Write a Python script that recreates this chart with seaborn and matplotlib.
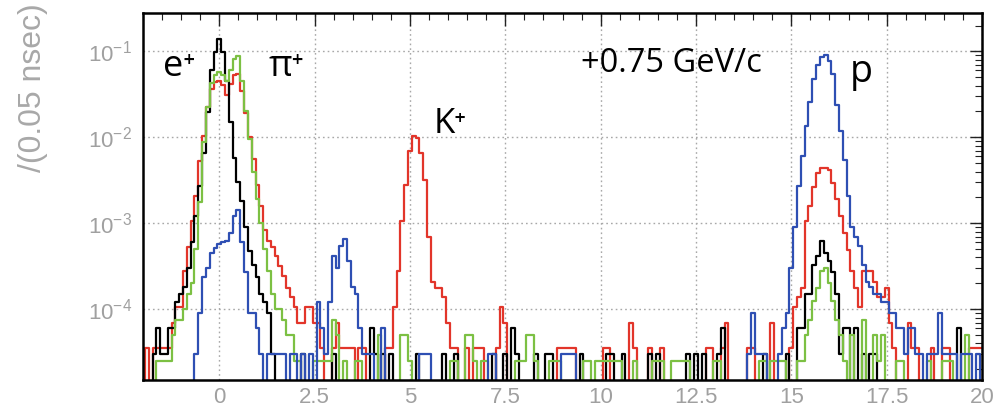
import numpy as np
import pandas as pd
import matplotlib
matplotlib.use("Agg")
import matplotlib.pyplot as plt
import seaborn as sns
from matplotlib.ticker import FixedLocator, FixedFormatter, LogLocator, MultipleLocator, NullFormatter

# ---------------- data ----------------
# time-of-flight histogram, 0.1 ns bins, first bin centred at -2.0 ns
# counts per bin, one row per ns (10 bins), final value = bin at 20.0 ns
bin_width = 0.1
first_center = -2.0

red_counts = [
    0, 1, 0, 1, 1, 1, 1, 1, 2, 3,
    3, 8, 15, 30, 60, 150, 300, 650, 1050, 1250,
    1300, 1150, 900, 1200, 1500, 1570, 1000, 550, 290, 160,
    80, 45, 24, 18, 15, 12, 9, 7, 5, 4,
    3, 2, 2, 3, 3, 2, 2, 1, 0, 0,
    1, 2, 1, 1, 1, 1, 0, 1, 1, 0,
    0, 0, 0, 0, 1, 1, 3, 8, 30, 80,
    200, 300, 280, 190, 90, 20, 6, 5, 5, 4,
    2, 1, 1, 0, 0, 1, 0, 1, 1, 1,
    0, 0, 0, 1, 3, 2, 0, 0, 0, 0,
    0, 0, 0, 0, 0, 0, 0, 0, 0, 1,
    1, 1, 1, 1, 0, 0, 0, 0, 0, 0,
    0, 1, 1, 0, 0, 0, 0, 0, 2, 1,
    0, 0, 0, 1, 0, 0, 1, 0, 0, 0,
    0, 0, 0, 0, 0, 0, 0, 0, 1, 1,
    0, 0, 1, 2, 0, 0, 0, 0, 0, 1,
    1, 0, 0, 0, 0, 2, 0, 0, 0, 0,
    1, 3, 4, 5, 30, 45, 75, 110, 125, 125,
    120, 85, 55, 35, 22, 14, 8, 5, 3, 8,
    8, 8, 6, 4, 4, 5, 2, 1, 0, 0,
    0, 2, 1, 1, 0, 0, 0, 1, 0, 0,
    1, 1, 0, 0, 0, 0, 0, 1, 1, 1,
    1,
]

black_counts = [
    0, 0, 0, 1, 2, 1, 1, 2, 2, 4,
    5, 6, 10, 20, 40, 90, 220, 650, 2000, 3300,
    4600, 3300, 1500, 500, 190, 100, 60, 30, 16, 11,
    8, 5, 4, 3, 1, 0, 0, 0, 0, 0,
    0, 0, 1, 0, 0, 0, 0, 0, 0, 0,
    1, 0, 0, 0, 0, 0, 0, 0, 0, 0,
    2, 1, 0, 1, 0, 1, 0, 0, 0, 0,
    0, 0, 1, 0, 0, 0, 0, 0, 0, 1,
    0, 0, 1, 0, 0, 0, 0, 0, 0, 0,
    0, 0, 1, 0, 0, 1, 0, 2, 1, 0,
    0, 0, 0, 1, 0, 0, 1, 1, 0, 0,
    0, 0, 0, 0, 0, 1, 0, 0, 0, 0,
    0, 0, 1, 1, 0, 0, 1, 0, 0, 0,
    0, 0, 0, 1, 0, 1, 0, 0, 0, 0,
    0, 0, 0, 1, 0, 1, 0, 1, 0, 0,
    0, 1, 2, 0, 0, 0, 0, 0, 0, 0,
    0, 0, 0, 1, 0, 0, 0, 0, 0, 1,
    0, 0, 2, 2, 5, 5, 11, 14, 21, 15,
    12, 9, 5, 1, 2, 2, 0, 2, 0, 1,
    0, 1, 1, 0, 0, 0, 0, 0, 0, 0,
    0, 0, 0, 0, 0, 0, 0, 0, 0, 0,
    0, 0, 0, 0, 2, 0, 0, 0, 0, 0,
    0,
]

green_counts = [
    0, 0, 0, 0, 1, 1, 1, 1, 2, 3,
    3, 4, 6, 8, 20, 70, 350, 900, 1700, 2100,
    2300, 2100, 1800, 2400, 3300, 3500, 1800, 800, 380, 160,
    76, 40, 20, 11, 6, 4, 4, 3, 2, 2,
    1, 1, 0, 0, 0, 1, 1, 1, 1, 1,
    3, 2, 0, 1, 0, 0, 1, 1, 0, 0,
    0, 0, 2, 0, 0, 0, 0, 0, 2, 2,
    1, 0, 0, 0, 0, 0, 0, 0, 0, 0,
    0, 1, 1, 0, 0, 2, 2, 1, 0, 1,
    1, 0, 0, 0, 0, 0, 0, 0, 1, 1,
    1, 2, 2, 1, 0, 0, 0, 1, 1, 1,
    0, 0, 0, 0, 0, 0, 1, 1, 0, 1,
    1, 1, 1, 1, 1, 1, 0, 0, 0, 1,
    0, 0, 0, 0, 1, 1, 1, 0, 0, 1,
    1, 1, 1, 1, 0, 0, 0, 0, 0, 0,
    1, 1, 0, 0, 0, 0, 0, 0, 0, 0,
    0, 0, 1, 1, 0, 1, 1, 1, 1, 0,
    0, 0, 1, 1, 2, 3, 5, 7, 11, 12,
    8, 5, 3, 2, 1, 0, 2, 0, 0, 3,
    0, 0, 2, 1, 2, 0, 0, 0, 1, 1,
    0, 0, 0, 0, 0, 0, 1, 0, 0, 0,
    1, 1, 1, 0, 0, 0, 2, 0, 0, 0,
    0,
]

blue_counts = [
    0, 0, 0, 0, 0, 0, 0, 0, 0, 0,
    0, 0, 0, 0, 1, 3, 8, 10, 15, 17,
    19, 20, 21, 26, 40, 48, 20, 9, 3, 3,
    2, 1, 0, 1, 1, 1, 1, 1, 0, 1,
    1, 0, 1, 0, 1, 0, 4, 2, 1, 4,
    14, 10, 18, 22, 12, 6, 5, 2, 1, 1,
    1, 0, 0, 2, 0, 0, 0, 0, 0, 0,
    0, 0, 0, 1, 1, 1, 0, 0, 0, 0,
    0, 0, 0, 0, 0, 0, 0, 0, 0, 0,
    0, 1, 1, 0, 0, 0, 0, 0, 0, 0,
    0, 0, 0, 0, 0, 0, 0, 0, 0, 0,
    1, 1, 1, 1, 0, 0, 0, 0, 0, 0,
    0, 0, 0, 0, 0, 0, 0, 0, 0, 0,
    0, 0, 0, 0, 0, 0, 0, 0, 0, 0,
    0, 0, 0, 0, 0, 0, 0, 0, 0, 0,
    0, 0, 0, 0, 0, 0, 0, 0, 0, 1,
    3, 1, 1, 1, 0, 0, 0, 1, 2, 3,
    10, 30, 90, 200, 450, 850, 1600, 2300, 2900, 3000,
    2600, 1800, 800, 400, 180, 70, 30, 23, 18, 11,
    7, 6, 5, 5, 4, 4, 3, 3, 2, 2,
    1, 2, 2, 1, 1, 0, 1, 1, 1, 3,
    1, 1, 1, 1, 0, 1, 1, 1, 0, 1,
    0,
]

# weight of a single entry for each sample (normalised histograms)
entry_weight = {"red": 3.5e-5, "black": 3.0e-5, "green": 2.5e-5, "blue": 3.0e-5}
series_counts = {"red": red_counts, "black": black_counts,
                 "green": green_counts, "blue": blue_counts}
series_colors = {"red": "#e2352a", "black": "#000000",
                 "green": "#7cc043", "blue": "#2e4fb3"}
draw_order = ["red", "black", "green", "blue"]

x_ticks = [0, 2.5, 5, 7.5, 10, 12.5, 15, 17.5, 20]
x_tick_labels = ["0", "2.5", "5", "7.5", "10", "12.5", "15", "17.5", "20"]
y_label = "/(0.05 nsec)"
particle_labels = ["e⁺", "π⁺", "K⁺", "p"]
momentum_label = "+0.75 GeV/c"

# ---------------- build table ----------------
frames = []
for name in draw_order:
    c = np.asarray(series_counts[name], dtype=float)
    centers = first_center + bin_width * np.arange(len(c))
    frames.append(pd.DataFrame({"t": centers, "w": c * entry_weight[name], "sample": name}))
df = pd.concat(frames, ignore_index=True)
n_bins = len(red_counts)
range_lo = first_center - bin_width / 2
range_hi = range_lo + bin_width * n_bins

# ---------------- figure ----------------
sns.set_style("white")
plt.rcParams["font.family"] = ["Liberation Sans", "DejaVu Sans"]

W, H = 997, 407
fig = plt.figure(figsize=(W / 100, H / 100), dpi=100)
L, R, T, B = 143, 982, 13, 380
ax = fig.add_axes([L / W, 1 - B / H, (R - L) / W, (B - T) / H])

for name in draw_order:
    sns.histplot(data=df[df["sample"] == name], x="t", weights="w",
                 binwidth=bin_width, binrange=(range_lo, range_hi),
                 element="step", fill=False, color=series_colors[name],
                 linewidth=1.6, ax=ax, zorder=3)

ax.set_yscale("log")
ax.set_xlim(-2.0, 20.0)
ax.set_ylim(1.5e-5, 0.28)
ax.set_xlabel("")
ax.set_ylabel("")

grey = "#a0a0a0"
ax.xaxis.set_major_locator(FixedLocator(x_ticks))
ax.xaxis.set_major_formatter(FixedFormatter(x_tick_labels))
ax.xaxis.set_minor_locator(MultipleLocator(0.5))
ax.yaxis.set_major_locator(LogLocator(base=10, numticks=10))
ax.yaxis.set_minor_locator(LogLocator(base=10, subs=np.arange(2, 10), numticks=20))
ax.yaxis.set_minor_formatter(NullFormatter())

ax.tick_params(which="both", direction="in", top=True, right=True, color="#222222")
ax.tick_params(which="major", length=9, width=1.0)
ax.tick_params(which="minor", length=5, width=0.8)
ax.tick_params(axis="x", which="major", labelsize=16, labelcolor=grey, pad=5)
ax.tick_params(axis="y", which="major", labelsize=16, labelcolor=grey, pad=8)

ax.grid(True, which="major", color="#a8a8a8", linestyle=(0, (1.2, 2.2)), linewidth=1.0, zorder=0)
ax.set_axisbelow(True)
for s in ax.spines.values():
    s.set_linewidth(1.8)
    s.set_color("black")
    s.set_zorder(5)

# y-axis title (top aligned, partly outside the figure as in the reference)
fig.text(33 / W, 1 - 3 / H, y_label, rotation=90, ha="center", va="top",
         fontsize=23, color="#a8a8a8")

ann_fam = ["Open Sans", "DejaVu Sans"]
def ftext(px, py, s, size):
    fig.text(px / W, 1 - py / H, s, ha="left", va="baseline", fontsize=size,
             color="black", family=ann_fam, zorder=10)

ftext(163, 76, particle_labels[0], 26)
ftext(268, 76, particle_labels[1], 26)
ftext(434, 133, particle_labels[2], 25)
ftext(850, 82, particle_labels[3], 27)
ftext(581, 72, momentum_label, 23.5)

fig.savefig("out.png", dpi=100)
